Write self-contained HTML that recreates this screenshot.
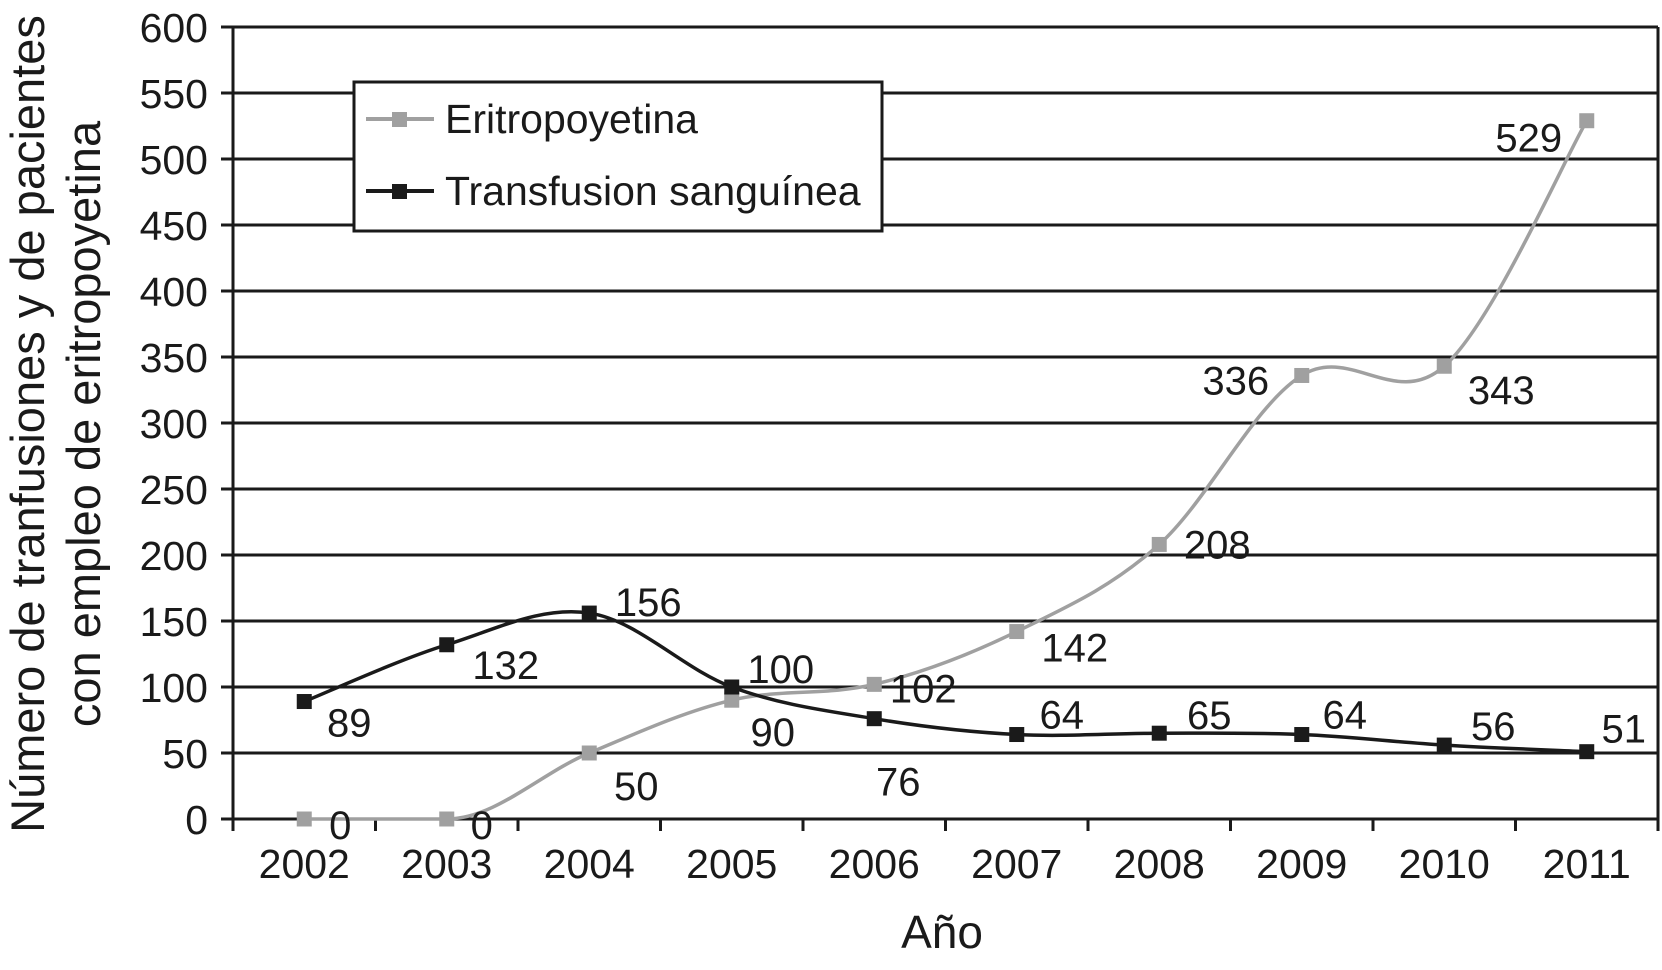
<!DOCTYPE html>
<html><head><meta charset="utf-8"><style>
html,body{margin:0;padding:0;background:#fff;}
svg{display:block;font-family:"Liberation Sans",Arial,sans-serif;}
</style></head><body>
<svg id="chart" width="1662" height="970" viewBox="0 0 1662 970">
<g id="grid"></g>
<g id="axes"></g>
<g id="series"></g>
<g id="legend">
  <rect x="354" y="82" width="528" height="149" fill="#fff" stroke="#1a1a1a" stroke-width="3"/>
  <g>
    <line x1="366" y1="119" x2="434" y2="119" stroke="#a0a0a0" stroke-width="4"/>
    <rect x="392" y="112" width="15" height="15" fill="#a0a0a0"/>
    <text x="445" y="133" font-size="41" fill="#1a1a1a">Eritropoyetina</text>
  </g>
  <g>
    <line x1="366" y1="191" x2="434" y2="191" stroke="#1a1a1a" stroke-width="4"/>
    <rect x="392" y="184" width="15" height="15" fill="#1a1a1a"/>
    <text x="445" y="205" font-size="41" fill="#1a1a1a">Transfusion sanguínea</text>
  </g>
</g>
<text x="0" y="0" font-size="47" fill="#1a1a1a" text-anchor="middle" transform="translate(44,424) rotate(-90)">Número de tranfusiones y de pacientes</text>
<text x="0" y="0" font-size="47" fill="#1a1a1a" text-anchor="middle" transform="translate(100,424) rotate(-90)">con empleo de eritropoyetina</text>
<text x="942" y="948" font-size="46" fill="#1a1a1a" text-anchor="middle">Año</text>
</svg>
<script>
const categories = ["2002","2003","2004","2005","2006","2007","2008","2009","2010","2011"];
const eritroValues = [0,0,50,90,102,142,208,336,343,529];
const transValues = [89,132,156,100,76,64,65,64,56,51];
const yTicks = [0,50,100,150,200,250,300,350,400,450,500,550,600];
const eritroLabelOffsets = [[36,6],[35,6],[47,33],[41,32],[49,4],[58,16],[58,0],[-66,5],[57,24],[-58,17]];
const transLabelOffsets = [[45,21],[59,20],[59,-11],[49,-18],[24,63],[45,-20],[50,-18],[43,-20],[49,-19],[37,-23]];

const NS="http://www.w3.org/2000/svg";
const L=233,R=1658,T=27,B=819,yMax=600;
const bw=(R-L)/categories.length;
const xS=i=>L+bw*(i+0.5);
const yS=v=>B-(v/yMax)*(B-T);
function mk(tag,attrs,parent){const e=document.createElementNS(NS,tag);for(const k in attrs)e.setAttribute(k,attrs[k]);parent.appendChild(e);return e;}
const grid=document.getElementById('grid'),axes=document.getElementById('axes'),series=document.getElementById('series');

yTicks.forEach(v=>{
  const g=mk('line',{x1:221,x2:R,y1:yS(v),y2:yS(v),stroke:'#1a1a1a','stroke-width':3},grid);
  
  
  const t=mk('text',{x:208,y:yS(v)+15,'font-size':41,'text-anchor':'end',fill:'#1a1a1a'},axes);
  t.textContent=v;
  
  
});
mk('line',{x1:L,x2:L,y1:T,y2:B,stroke:'#1a1a1a','stroke-width':3},axes);
mk('line',{x1:R,x2:R,y1:T,y2:831,stroke:'#1a1a1a','stroke-width':3},axes);
for(let i=0;i<=categories.length;i++){
  mk('line',{x1:L+bw*i,x2:L+bw*i,y1:B,y2:831,stroke:'#1a1a1a','stroke-width':3},axes);
}
categories.forEach((c,i)=>{
  const t=mk('text',{x:xS(i),y:878,'font-size':41,'text-anchor':'middle',fill:'#1a1a1a'},axes);
  t.textContent=c;
  
  
});

function smoothPath(pts){
  const n=pts.length,tan=[];
  for(let i=0;i<n;i++){
    const p0=pts[Math.max(0,i-1)],p2=pts[Math.min(n-1,i+1)];
    let t=[(p2[0]-p0[0])*0.17,(p2[1]-p0[1])*0.17];
    if((i>0&&pts[i-1][1]===pts[i][1])||(i<n-1&&pts[i+1][1]===pts[i][1])) t=[t[0],0];
    tan.push(t);
  }
  let d='M'+pts[0][0]+','+pts[0][1];
  for(let i=0;i<n-1;i++){
    const p1=pts[i],p2=pts[i+1];
    const c1=[p1[0]+tan[i][0],p1[1]+tan[i][1]];
    const c2=[p2[0]-tan[i+1][0],p2[1]-tan[i+1][1]];
    d+=' C'+c1.join(',')+' '+c2.join(',')+' '+p2.join(',');
  }
  return d;
}
function drawSeries(vals,offs,color,name){
  const g=mk('g',{},series);
  
  
  const pts=vals.map((v,i)=>[xS(i),yS(v)]);
  const p=mk('path',{d:smoothPath(pts),fill:'none',stroke:color,'stroke-width':3.5},g);
  
  
  pts.forEach((pt,i)=>{
    const r=mk('rect',{x:pt[0]-7.5,y:pt[1]-7.5,width:15,height:15,fill:color},g);
    
    
    const t=mk('text',{x:pt[0]+offs[i][0],y:pt[1]+offs[i][1]+14,'font-size':40,'text-anchor':'middle',fill:'#1a1a1a'},g);
    t.textContent=vals[i];
    
    
  });
}
drawSeries(eritroValues,eritroLabelOffsets,'#a0a0a0','eritropoyetina');
drawSeries(transValues,transLabelOffsets,'#1a1a1a','transfusion');
document.getElementById('chart').appendChild(document.getElementById('legend'));
</script>
</body></html>
